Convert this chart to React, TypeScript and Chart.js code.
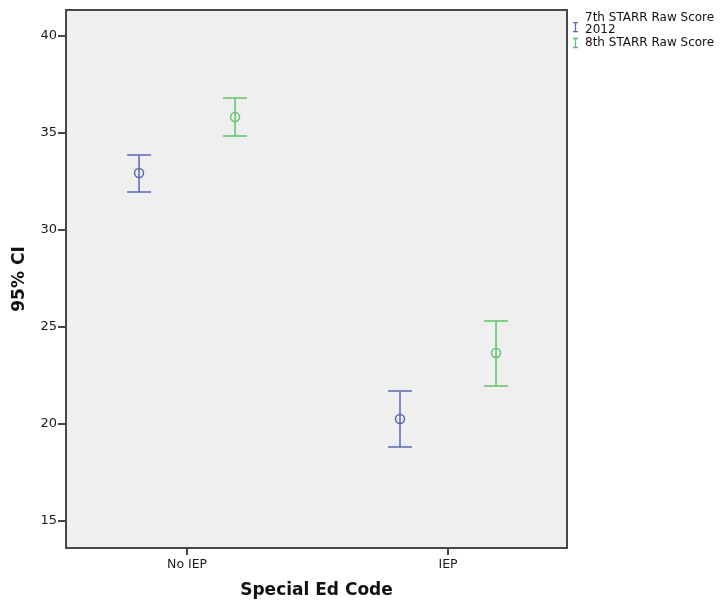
import React, { useEffect, useRef } from 'react';
import { Chart, registerables } from 'chart.js';

Chart.register(...registerables);

// ---- Data ----
const categories = ['No IEP', 'IEP'];
const legend7 = ['7th STARR Raw Score', '2012'];
const legend8 = ['8th STARR Raw Score'];

const mean7 = [32.94, 20.26];
const low7 = [31.96, 18.81];
const high7 = [33.87, 21.7];

const mean8 = [35.82, 23.66];
const low8 = [34.85, 21.96];
const high8 = [36.8, 25.31];

const yTicks = [15, 20, 25, 30, 35, 40];

// ---- Styles ----
const BLUE = '#5a6ab4';
const GREEN = '#5cc46a';
const FRAME = '#474747';
const PLOT_BG = '#efefef';
const FONT = "'DejaVu Sans', sans-serif";
const GROUP_OFFSET = 0.184;

const errorBarPlugin = {
  id: 'errorBars',
  beforeDatasetsDraw(chart: any) {
    const ctx = chart.ctx;
    const y = chart.scales.y;
    chart.data.datasets.forEach((ds: any, di: number) => {
      const meta = chart.getDatasetMeta(di);
      meta.data.forEach((pt: any, i: number) => {
        const x = pt.x;
        const yl = y.getPixelForValue(ds.errLow[i]);
        const yh = y.getPixelForValue(ds.errHigh[i]);
        ctx.save();
        ctx.strokeStyle = ds.borderColor;
        ctx.lineWidth = 1.5;
        ctx.beginPath();
        ctx.moveTo(x, yl);
        ctx.lineTo(x, yh);
        ctx.moveTo(x - 12, yl);
        ctx.lineTo(x + 12, yl);
        ctx.moveTo(x - 12, yh);
        ctx.lineTo(x + 12, yh);
        ctx.stroke();
        ctx.restore();
      });
    });
  },
};

const bgPlugin = {
  id: 'plotBg',
  beforeDraw(chart: any) {
    const { ctx, chartArea: a } = chart;
    ctx.save();
    ctx.fillStyle = '#ffffff';
    ctx.fillRect(0, 0, chart.width, chart.height);
    ctx.fillStyle = PLOT_BG;
    ctx.fillRect(a.left, a.top, a.right - a.left, a.bottom - a.top);
    ctx.restore();
  },
  afterDraw(chart: any) {
    const { ctx, chartArea: a } = chart;
    ctx.save();
    ctx.strokeStyle = FRAME;
    ctx.lineWidth = 2;
    ctx.strokeRect(a.left, a.top, a.right - a.left, a.bottom - a.top);
    ctx.restore();
  },
};

const legendPlugin = {
  id: 'sideLegend',
  afterDraw(chart: any) {
    const ctx = chart.ctx;
    const a = chart.chartArea;
    const x0 = a.right + 8;
    let y = 18;
    const lineH = 11.5;
    const itemGap = 13.5;
    ctx.save();
    ctx.font = `12px ${FONT}`;
    ctx.textBaseline = 'middle';
    ctx.textAlign = 'left';
    chart.data.datasets.forEach((ds: any) => {
      const lines: string[] = ds.legendLines;
      const cy = lines.length > 1 ? y + lineH * 0.8 : y;
      ctx.strokeStyle = ds.borderColor;
      ctx.lineWidth = 1.3;
      const ix = x0 + 0.5;
      ctx.beginPath();
      ctx.moveTo(ix, cy - 4.5);
      ctx.lineTo(ix, cy + 4.5);
      ctx.moveTo(ix - 2.5, cy - 4.5);
      ctx.lineTo(ix + 2.5, cy - 4.5);
      ctx.moveTo(ix - 2.5, cy + 4.5);
      ctx.lineTo(ix + 2.5, cy + 4.5);
      ctx.stroke();
      ctx.fillStyle = '#111';
      lines.forEach((t, li) => {
        ctx.fillText(t, x0 + 10, y + li * lineH);
      });
      y += (lines.length - 1) * lineH + itemGap;
    });
    ctx.restore();
  },
};

export default function App() {
  const ref = useRef<HTMLCanvasElement>(null);

  useEffect(() => {
    document.body.style.margin = '0';
    if (!ref.current) return;
    const mk = (mean: number[], low: number[], high: number[], off: number, color: string, lines: string[]) => ({
      label: lines.join(' '),
      legendLines: lines,
      data: categories.map((_, i) => ({ x: i + 1 + off, y: mean[i] })),
      errLow: low,
      errHigh: high,
      borderColor: color,
      backgroundColor: 'rgba(0,0,0,0)',
      pointRadius: 4.5,
      pointBorderWidth: 1.5,
      pointHoverRadius: 4.5,
      showLine: false,
    });
    const chart = new Chart(ref.current, {
      type: 'scatter',
      data: {
        datasets: [
          mk(mean7, low7, high7, -GROUP_OFFSET, BLUE, legend7) as any,
          mk(mean8, low8, high8, GROUP_OFFSET, GREEN, legend8) as any,
        ],
      },
      options: {
        responsive: false,
        animation: false,
        layout: { padding: { left: 0, top: 10, right: 153, bottom: 0 } },
        plugins: { legend: { display: false }, tooltip: { enabled: false } },
        scales: {
          x: {
            type: 'linear',
            min: 0.536,
            max: 2.456,
            afterBuildTicks: (s: any) => {
              s.ticks = categories.map((_, i) => ({ value: i + 1 }));
            },
            afterFit: (s: any) => {
              s.height = 54;
            },
            ticks: {
              callback: (v: any) => categories[Math.round(v) - 1] ?? '',
              font: { family: FONT, size: 12.5 },
              color: '#1a1a1a',
              padding: 2,
              maxRotation: 0,
            },
            grid: { drawOnChartArea: false, drawTicks: true, tickLength: 7, color: FRAME, lineWidth: 2 },
            border: { display: false },
            title: {
              display: true,
              text: 'Special Ed Code',
              font: { family: FONT, size: 17, weight: 'bold' },
              color: '#111',
              padding: { top: 0, bottom: 1 },
            },
          },
          y: {
            type: 'linear',
            min: 13.61,
            max: 41.34,
            afterBuildTicks: (s: any) => {
              s.ticks = yTicks.map((v) => ({ value: v }));
            },
            afterFit: (s: any) => {
              s.width = 66;
            },
            ticks: {
              font: { family: FONT, size: 13 },
              color: '#1a1a1a',
              padding: 1,
            },
            grid: { drawOnChartArea: false, drawTicks: true, tickLength: 8, color: FRAME, lineWidth: 2 },
            border: { display: false },
            title: {
              display: true,
              text: '95% CI',
              font: { family: FONT, size: 17, weight: 'bold' },
              color: '#111',
              padding: { top: 9, bottom: 0 },
            },
          },
        },
      },
      plugins: [bgPlugin, errorBarPlugin, legendPlugin],
    });
    return () => chart.destroy();
  }, []);

  return (
    <div style={{ width: 720, height: 602 }}>
      <canvas ref={ref} width={720} height={602} style={{ display: 'block' }} />
    </div>
  );
}
